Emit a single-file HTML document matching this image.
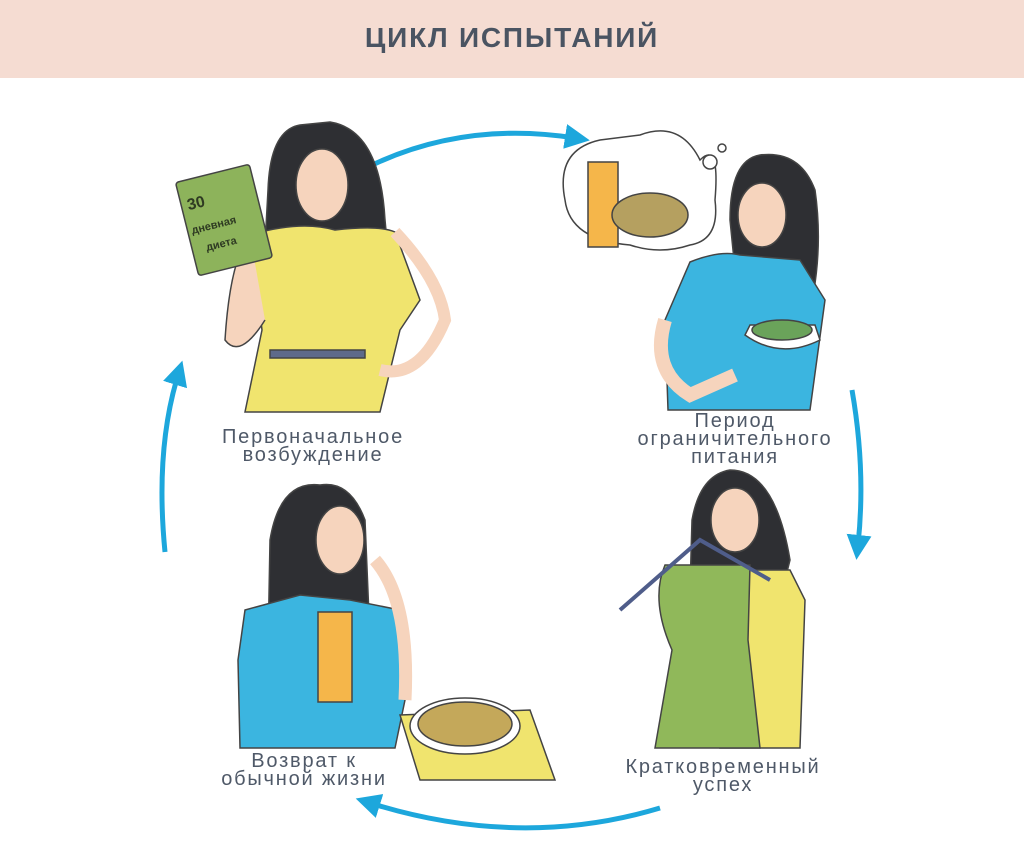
<!DOCTYPE html>
<html><head><meta charset="utf-8"><style>
body{margin:0;width:1024px;height:867px;background:#fff;position:relative;overflow:hidden;font-family:"Liberation Sans","DejaVu Sans",sans-serif}
.hdr{position:absolute;left:0;top:0;width:1024px;height:78px;background:#f5dcd2}
.hdr div{position:absolute;top:22px;width:100%;text-align:center;font-size:28px;font-weight:bold;color:#4a5462;letter-spacing:1.8px}
.lb{position:absolute;text-align:center;color:#4f5968;font-size:20px;line-height:18px;letter-spacing:1.8px;width:300px}
svg{position:absolute;left:0;top:0}
</style></head><body>
<div class="hdr"><div>ЦИКЛ ИСПЫТАНИЙ</div></div>
<svg width="1024" height="867" viewBox="0 0 1024 867">
<defs><marker id="a" markerWidth="5" markerHeight="5" refX="2" refY="2.5" orient="auto"><path d="M0,0 L5,2.5 L0,5 z" fill="#1da7dc"/></marker></defs>
<g fill="none" stroke="#1da7dc" stroke-width="5">
<path d="M362,170 Q460,120 575,138" marker-end="url(#a)"/>
<path d="M852,390 Q866,470 858,545" marker-end="url(#a)"/>
<path d="M660,808 Q520,850 370,803" marker-end="url(#a)"/>
<path d="M165,552 Q155,450 178,375" marker-end="url(#a)"/>
</g>
<g stroke="#444" stroke-width="1.5">
<path d="M300,125 Q270,130 268,190 L262,300 Q280,320 300,250 L355,250 L370,330 Q395,320 385,220 Q380,130 330,122 z" fill="#2e2f33"/>
<path d="M250,235 Q300,220 335,230 Q380,225 395,232 L420,300 L400,330 L380,412 L245,412 L262,330 z" fill="#f0e46e"/>
<rect x="270" y="350" width="95" height="8" fill="#5e6a8a"/>
<ellipse cx="322" cy="185" rx="26" ry="36" fill="#f6d4bd"/>
<path d="M250,235 Q230,260 225,340 Q240,360 265,320" fill="#f6d4bd"/>
<path d="M395,232 Q440,280 445,320 Q420,380 380,370" fill="none" stroke="#f6d4bd" stroke-width="12"/>
<g transform="rotate(-14 224 220)"><rect x="186" y="172" width="76" height="96" rx="3" fill="#8db35b"/></g>
<path d="M640,135 Q680,120 700,160 Q720,140 715,200 Q720,240 690,245 Q660,255 630,245 Q570,240 565,200 Q555,150 600,140 z" fill="#fff"/>
<circle cx="710" cy="162" r="7" fill="#fff"/><circle cx="722" cy="148" r="4" fill="#fff"/>
<rect x="588" y="162" width="30" height="85" fill="#f5b64a"/>
<ellipse cx="650" cy="215" rx="38" ry="22" fill="#b5a060"/>
<path d="M760,155 Q730,160 730,220 L740,320 L805,330 Q825,260 815,190 Q800,150 760,155 z" fill="#2e2f33"/>
<path d="M690,262 Q720,250 740,255 L800,260 L825,300 L810,410 L668,410 L665,320 z" fill="#3bb5e0"/>
<ellipse cx="762" cy="215" rx="24" ry="32" fill="#f6d4bd"/>
<path d="M665,320 Q650,370 690,395 L735,375" fill="none" stroke="#f6d4bd" stroke-width="14"/>
<path d="M745,335 Q780,360 820,340 L815,325 L750,325 z" fill="#fff"/>
<ellipse cx="782" cy="330" rx="30" ry="10" fill="#6aa35a"/>
<path d="M320,485 Q280,480 270,540 L268,650 L300,680 L360,690 L370,640 L365,520 Q350,480 320,485 z" fill="#2e2f33"/>
<path d="M245,610 L300,595 L350,600 L400,610 L405,700 L395,748 L240,748 L238,660 z" fill="#3bb5e0"/>
<ellipse cx="340" cy="540" rx="24" ry="34" fill="#f6d4bd"/>
<rect x="318" y="612" width="34" height="90" fill="#f5b64a"/>
<path d="M375,560 Q410,600 405,700" fill="none" stroke="#f6d4bd" stroke-width="13"/>
<polygon points="400,715 530,710 555,780 420,780" fill="#f0e46e"/>
<ellipse cx="465" cy="726" rx="55" ry="28" fill="#fff"/>
<ellipse cx="465" cy="724" rx="47" ry="22" fill="#c4a85a"/>
<path d="M730,470 Q700,475 692,520 L690,590 L780,600 L790,560 Q775,470 730,470 z" fill="#2e2f33"/>
<path d="M735,570 L790,570 L805,600 L800,748 L720,748 z" fill="#f0e46e"/>
<ellipse cx="735" cy="520" rx="24" ry="32" fill="#f6d4bd"/>
<path d="M665,565 L750,565 L748,640 L760,748 L655,748 L672,650 Q650,600 665,565 z" fill="#90b85a"/>
<path d="M620,610 L700,540 L770,580" fill="none" stroke="#4f5d8a" stroke-width="4"/>
</g>
<text x="192" y="202" transform="rotate(-14 224 220)" font-family="Liberation Sans,sans-serif" font-size="16" font-weight="bold" fill="#2e3a22">30</text>
<text x="190" y="226" transform="rotate(-14 224 220)" font-family="Liberation Sans,sans-serif" font-size="11" font-weight="bold" fill="#2e3a22">дневная</text>
<text x="200" y="246" transform="rotate(-14 224 220)" font-family="Liberation Sans,sans-serif" font-size="11" font-weight="bold" fill="#2e3a22">диета</text>
</svg>
<div class="lb" style="left:163px;top:428px">Первоначальное<br>возбуждение</div>
<div class="lb" style="left:585px;top:412px">Период<br>ограничительного<br>питания</div>
<div class="lb" style="left:154px;top:752px">Возврат к<br>обычной жизни</div>
<div class="lb" style="left:573px;top:758px">Кратковременный<br>успех</div>
</body></html>
